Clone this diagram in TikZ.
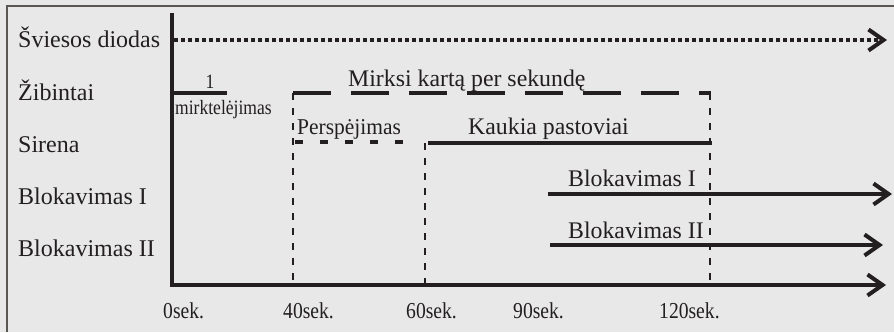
\documentclass[tikz,border=0pt]{standalone}
\usepackage{fontspec}
\setmainfont{Liberation Serif}
\newfontfamily\condfont[FakeStretch=0.86]{Liberation Serif}
\newfontfamily\semicondfont[FakeStretch=0.95]{Liberation Serif}
\usetikzlibrary{arrows.meta}
\definecolor{ink}{HTML}{231F20}
\definecolor{frame}{HTML}{5A5651}
\definecolor{bg}{HTML}{E8E8E8}
\begin{document}
\begin{tikzpicture}[x=1pt,y=-1pt,
  chev/.tip={Straight Barb[length=15pt,width=21pt]},
  lbl/.style={anchor=base west, inner sep=0pt, text=ink, font=\fontsize{24}{28}\selectfont},
  midlbl/.style={lbl, font=\fontsize{23.8}{28}\selectfont},
  smlbl/.style={lbl, font=\semicondfont\fontsize{22.6}{26}\selectfont},
  ticklbl/.style={lbl, font=\condfont\fontsize{22.8}{26}\selectfont},
  tinylbl/.style={lbl, font=\condfont\fontsize{20.4}{24}\selectfont},
  axisline/.style={draw=ink, line width=4pt, line join=miter, -chev},
  arrline/.style={draw=ink, line width=4pt, -chev},
  dotline/.style={draw=ink, line width=4pt, dash pattern=on 4pt off 3pt, -chev},
  solidline/.style={draw=ink, line width=3.6pt},
  longdash/.style={draw=ink, line width=3.6pt, dash pattern=on 38pt off 20pt},
  shortdash/.style={draw=ink, line width=3.6pt, dash pattern=on 8pt off 17pt},
  guide/.style={draw=ink, line width=1.4pt, dash pattern=on 7pt off 8pt},
]
\useasboundingbox (0,0) rectangle (894,332);
\fill[bg] (0,0) rectangle (894,332);
\draw[frame, line width=2.2pt] (7,332) -- (7,6) -- (894,6);

% coordinates
\coordinate (Ytop) at (172,13);
\coordinate (O) at (172,285);
\coordinate (Xend) at (886,285);
\coordinate (d0) at (174,40);
\coordinate (d1) at (887,40);
\coordinate (z0) at (172,93);
\coordinate (z1) at (227,93);
\coordinate (m0) at (293,93);
\coordinate (m1) at (711,93);
\coordinate (g40) at (293,285);
\coordinate (g60t) at (425,143);
\coordinate (g60) at (425,285);
\coordinate (g120) at (710,285);
\coordinate (g120t) at (710,93);
\coordinate (p0) at (295,142);
\coordinate (p1) at (404,142);
\coordinate (k0) at (428,143);
\coordinate (k1) at (712,143);
\coordinate (b10) at (548,194);
\coordinate (b11) at (892,194);
\coordinate (b20) at (550,245);
\coordinate (b21) at (883,245);

% guides
\draw[guide] (m0) -- (g40);
\draw[guide] (g60t) -- (g60);
\draw[guide] (g120t) -- (g120);

% lines
\draw[dotline] (d0) -- (d1);
\draw[solidline] (z0) -- (z1);
\draw[longdash] (m0) -- (m1);
\draw[shortdash] (p0) -- (p1);
\draw[solidline] (k0) -- (k1);
\draw[arrline] (b10) -- (b11);
\draw[arrline] (b20) -- (b21);
\draw[axisline] (Ytop) -- (O) -- (Xend);

% left labels
\node[lbl] (lsd) at (18,47) {Šviesos diodas};
\node[lbl] (lzi) at (18,100) {Žibintai};
\node[lbl] (lsi) at (18,152) {Sirena};
\node[lbl] (lb1) at (18,204) {Blokavimas I};
\node[lbl] (lb2) at (18,256) {Blokavimas II};

% line labels
\node[tinylbl, anchor=base] (one) at (210,88) {1};
\node[tinylbl] (mirk) at (175,114) {mirktelėjimas};
\node[midlbl] (mks) at (348,86) {Mirksi kartą per sekundę};
\node[smlbl] (per) at (297,134) {Perspėjimas};
\node[midlbl] (kau) at (468,134) {Kaukia pastoviai};
\node[midlbl] (tb1) at (568,186) {Blokavimas I};
\node[midlbl] (tb2) at (568,238) {Blokavimas II};

% ticks
\node[ticklbl] (t0) at (163,318) {0sek.};
\node[ticklbl] (t40) at (283,318) {40sek.};
\node[ticklbl] (t60) at (406,318) {60sek.};
\node[ticklbl] (t90) at (513,318) {90sek.};
\node[ticklbl] (t120) at (659,318) {120sek.};
\end{tikzpicture}
\end{document}
